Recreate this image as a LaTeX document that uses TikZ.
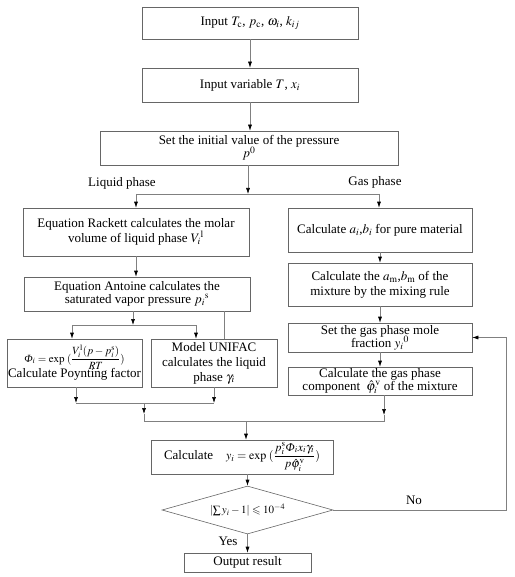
\documentclass[tikz,border=0pt]{standalone}
\usepackage{amsmath}
\usepackage{amssymb}
\usepackage{mathptmx}
\usepackage{fontspec}
\setmainfont{Liberation Serif}
\usetikzlibrary{arrows.meta,shapes.geometric}
\newcommand{\PhiIt}{\text{\itshape Φ}}
\tikzset{
  box/.style={draw=black!60, line width=0.6pt, fill=white, align=center, inner sep=1pt,
    font=\fontsize{13}{15}\selectfont},
  lbl/.style={font=\fontsize{13}{15}\selectfont, inner sep=0pt},
  ln/.style={draw=black!50, line width=0.6pt},
  arr/.style={ln, -{Latex[length=6pt,width=4pt,black]}},
}
\begin{document}
\begin{tikzpicture}[x=1pt,y=-1pt]
\useasboundingbox (0,0) rectangle (514,577);
\node[box, minimum width=216pt, minimum height=32pt] (b1) at (250,23) {Input $T_{\mathrm{c}}$, $p_{\mathrm{c}}$, $\omega_i$, $k_{ij}$};
\node[box, minimum width=216pt, minimum height=34pt] (b2) at (250,85) {Input variable $T$, $x_i$};
\node[box, minimum width=298pt, minimum height=34pt] (b3) at (249,148) {Set the initial value of the pressure\\[-2pt] $p^0$};
\node[lbl] (lq) at (122,183) {Liquid phase};
\node[lbl] (gp) at (375,182) {Gas phase};
\node[box, minimum width=226pt, minimum height=48pt] (r1) at (136,232) {Equation Rackett calculates the molar\\ volume of liquid phase $V_i{}^{\mathrm{l}}$};
\node[box, minimum width=226pt, minimum height=34pt] (r2) at (137,294) {Equation Antoine calculates the\\[-2pt] saturated vapor pressure $p_i{}^{\mathrm{s}}$};
\node[box, minimum width=135pt, minimum height=48pt] (r3) at (74.5,363) {{\fontsize{11}{12}\selectfont $\PhiIt_i=\exp\;(\dfrac{V_i^{\mathrm{l}}(p-p_i^{\mathrm{s}})}{RT})$}\\[-2pt] Calculate Poynting factor};
\node[box, minimum width=126pt, minimum height=48pt] (r4) at (214,363) {Model UNIFAC\\ calculates the liquid\\ phase $\gamma_i$};
\node[box, minimum width=184pt, minimum height=44pt] (g1) at (380,230) {Calculate $a_i$,$b_i$ for pure material};
\node[box, minimum width=184pt, minimum height=43pt] (g2) at (380,284.5) {Calculate the $a_{\mathrm{m}}$,$b_{\mathrm{m}}$ of the\\ mixture by the mixing rule};
\node[box, minimum width=184pt, minimum height=29pt] (g3) at (380,337.5) {Set the gas phase mole\\[-2pt] fraction $y_i{}^0$};
\node[box, minimum width=184pt, minimum height=28pt] (g4) at (380,381) {Calculate the gas phase\\[-2pt] component $\;\hat{\varphi}_i^{\mathrm{v}}$ of the mixture};
\node[box, minimum width=182pt, minimum height=34pt] (calc) at (242,457) {Calculate\quad{\fontsize{12}{13}\selectfont $y_i=\exp\;(\dfrac{p_i^{\mathrm{s}}\PhiIt_i x_i\gamma_i}{p\hat{\varphi}_i^{\mathrm{v}}})$}};
\node[diamond, draw=black!60, line width=0.6pt, inner sep=0pt, minimum width=171pt, minimum height=48pt, aspect=3.5, font=\fontsize{11}{12}\selectfont] (d) at (247.5,510) {$\left|\sum y_i-1\right|\leqslant 10^{-4}$};
\node[box, minimum width=127pt, minimum height=19pt] (out) at (247.5,562.5) {Output result};
\node[lbl] (yes) at (228,541) {Yes};
\node[lbl] (no) at (414,500) {No};
% coordinates
\coordinate (s1) at (248,194);
\coordinate (sL) at (136,194);
\coordinate (sR) at (379,194);
\coordinate (t1) at (133,325);
\coordinate (tL) at (72,325);
\coordinate (tR) at (196,325);
\coordinate (tU) at (224,325);
\coordinate (m1) at (76,403);
\coordinate (m2) at (214,403);
\coordinate (n1) at (144,403);
\coordinate (n1a) at (144,414);
\coordinate (n2) at (144,421);
\coordinate (n3) at (384,421);
\coordinate (n3a) at (384,415);
\coordinate (k) at (246,421);
\coordinate (nr) at (506,510);
% connectors
\draw[arr] (b1) -- (b2);
\draw[arr] (b2.south) -- (b2.south |- b3.north);
\draw[arr] (b3.south -| s1) -- (s1);
\draw[ln] (sL) -- (sR);
\draw[arr] (sL) -- (r1.north -| sL);
\draw[arr] (sR) -- (g1.north -| sR);
\draw[arr] (r1.south) -- (r1.south |- r2.north);
\draw[arr] (r2.south -| t1) -- (t1);
\draw[ln] (tL) -- (tR);
\draw[arr] (tL) -- (r3.north -| tL);
\draw[arr] (tR) -- (r4.north -| tR);
\draw[ln] (r2.south -| tU) -- (r4.north -| tU);
\draw[arr] (r3.south -| m1) -- (m1);
\draw[arr] (r4.south -| m2) -- (m2);
\draw[ln] (m1) -- (m2);
\draw[arr] (n1) -- (n1a);
\draw[ln] (n1a) -- (n2) -- (n3) -- (n3a);
\draw[arr] (g4.south -| n3) -- (n3a);
\draw[arr] (k) -- (calc.north -| k);
\draw[arr] (g1) -- (g2);
\draw[arr] (g2) -- (g3);
\draw[arr] (g3) -- (g4);
\draw[arr] (calc.south -| d.north) -- (d.north);
\draw[arr] (d.south) -- (out.north);
\draw[arr] (d.east) -- (nr) |- (g3.east);
\end{tikzpicture}
\end{document}
